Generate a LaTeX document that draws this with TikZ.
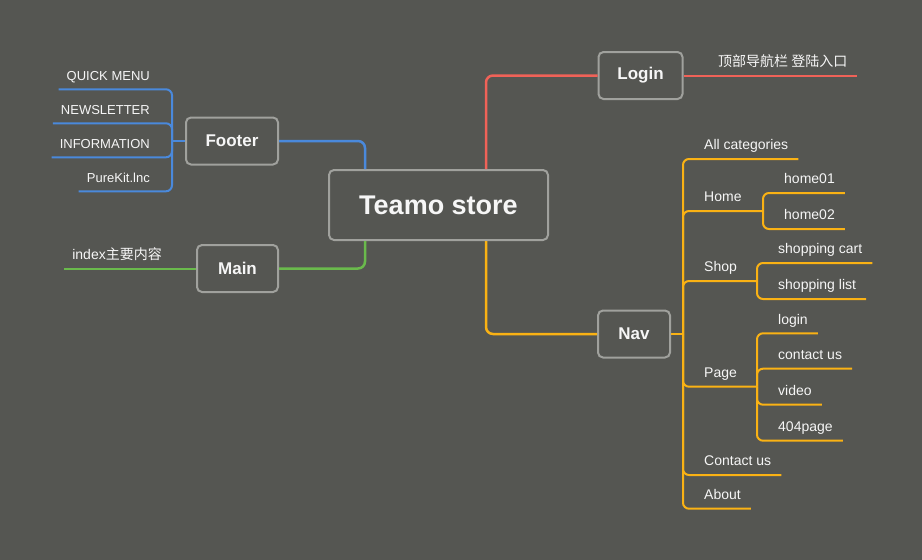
\documentclass[tikz,border=0pt]{standalone}
\usepackage{fontspec}
\setmainfont{Liberation Sans}
\newfontfamily\cjk{Noto Sans CJK SC}
\definecolor{bg}{RGB}{85,86,82}
\definecolor{boxgray}{RGB}{160,161,157}
\definecolor{inkwhite}{RGB}{246,246,246}
\definecolor{footblue}{RGB}{74,137,220}
\definecolor{maingreen}{RGB}{106,186,76}
\definecolor{loginred}{RGB}{240,98,88}
\definecolor{navorange}{RGB}{250,178,20}
\tikzset{
  topic/.style={draw=boxgray,line width=2pt,rounded corners=5pt,fill=bg,
    minimum height=47pt,font=\bfseries\fontsize{17}{20}\selectfont},
  leaf/.style={inner xsep=10pt,inner ysep=6pt,text height=10pt,text depth=3pt,
    font=\fontsize{14}{16}\selectfont},
  leafr/.style={leaf,anchor=south west},
  leafl/.style={leaf,anchor=south east,inner xsep=8pt,font=\fontsize{13}{15}\selectfont},
  link/.style={line width=2.5pt,rounded corners=7pt},
  twig/.style={line width=2pt,rounded corners=6pt}
}
\begin{document}
\begin{tikzpicture}
  [x=1pt,y=-1pt,every node/.style={text=inkwhite}]
  \fill[bg] (0,0) rectangle (922,560);
  \node[topic,minimum width=219pt,minimum height=70pt,
    font=\bfseries\fontsize{27}{30}\selectfont] (store) at (438.5,205) {Teamo store};
  \node[topic,minimum width=92pt] (footer) at (232,141) {Footer};
  \node[topic,minimum width=81pt] (main) at (237.5,268.5) {Main};
  \node[topic,minimum width=84pt] (login) at (640.5,75.5) {Login};
  \node[topic,minimum width=72pt] (nav) at (634,334) {Nav};
  \draw[link,footblue] (footer.east) -| ([xshift=-73.5pt]store.north);
  \draw[link,maingreen] ([xshift=-73.5pt]store.south) |- (main.east);
  \draw[link,loginred] ([xshift=47.5pt]store.north) |- (login.west);
  \draw[link,navorange] ([xshift=47.5pt]store.south) |- (nav.west);
  % footer
  \coordinate (footfork) at (172,141);
  \node[leafl] (quick) at (158,89.3) {QUICK MENU};
  \node[leafl] (news) at (158,123.3) {NEWSLETTER};
  \node[leafl] (info) at (158,157.3) {INFORMATION};
  \node[leafl] (purekit) at (158,191.3) {PureKit.lnc};
  \draw[twig,footblue] (footer.west) -- (footfork);
  \foreach \to in {quick,news,info,purekit}
    \draw[twig,footblue] (footfork) |- (\to.south west);
  % main
  \node[leafl,font=\fontsize{14}{16}\selectfont] (index) at (170,268.5) {index{\cjk 主要内容}};
  \draw[twig,maingreen] (main.west) -- (index.south west);
  % login
  \node[leafr,inner xsep=9pt] (entry) at (709,75.5) {{\cjk 顶部导航栏 登陆入口}};
  \draw[twig,loginred] (login.east) -- (entry.south east);
  % nav
  \coordinate (navfork) at (683,334);
  \coordinate (homefork) at (763,211);
  \coordinate (shopfork) at (757,281);
  \coordinate (pagefork) at (757,386.7);
  \node[leafr] (allcat) at (694,159) {All categories};
  \node[leafr] (home) at (694,211) {Home};
  \node[leafr] (shop) at (694,281) {Shop};
  \node[leafr] (page) at (694,386.7) {Page};
  \node[leafr] (contact) at (694,475) {Contact us};
  \node[leafr] (about) at (694,508.7) {About};
  \node[leafr] (home01) at (774,193) {home01};
  \node[leafr] (home02) at (774,229) {home02};
  \node[leafr] (cart) at (768,263) {shopping cart};
  \node[leafr] (list) at (768,299) {shopping list};
  \node[leafr] (plogin) at (768,333.3) {login};
  \node[leafr] (pcontact) at (768,368.7) {contact us};
  \node[leafr] (video) at (768,404.7) {video};
  \node[leafr] (p404) at (768,440.7) {404page};
  \draw[twig,navorange] (nav.east) -- (navfork);
  \foreach \from/\to in {home/homefork,shop/shopfork,page/pagefork}
    \draw[twig,navorange] (navfork) |- (\from.south west) -- (\to);
  \foreach \from/\to in {navfork/allcat,navfork/contact,navfork/about,
    homefork/home01,homefork/home02,shopfork/cart,shopfork/list,
    pagefork/plogin,pagefork/pcontact,pagefork/video,pagefork/p404}
    \draw[twig,navorange] (\from) |- (\to.south east);
\end{tikzpicture}
\end{document}
